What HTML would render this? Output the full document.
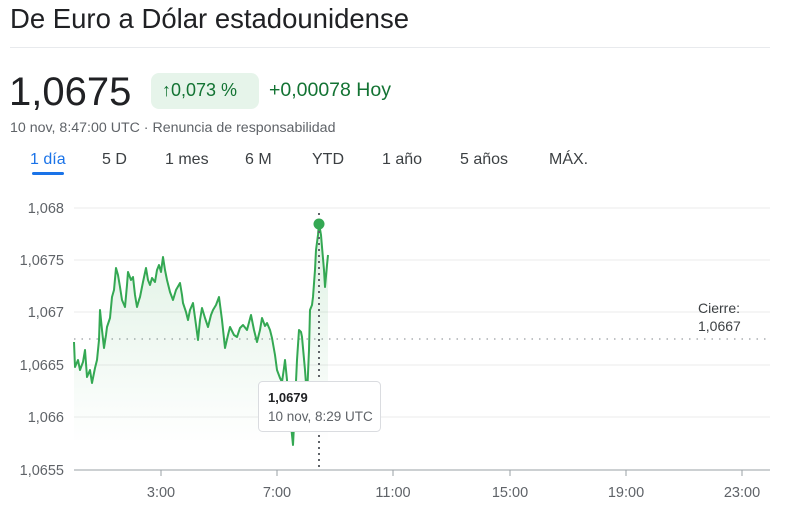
<!DOCTYPE html><html><head><style>
body{margin:0;width:800px;height:517px;background:#fff;font-family:"Liberation Sans",Arial,sans-serif;overflow:hidden;position:relative}
.a{position:absolute;white-space:nowrap}
</style></head><body>
<div class="a" style="left:10px;top:3px;font-size:27.5px;color:#202124">De Euro a Dólar estadounidense</div>
<div class="a" style="left:10px;top:47px;width:760px;border-top:1px solid #e8eaed"></div>
<div class="a" style="left:9px;top:70px;font-size:40px;color:#202124">1,0675</div>
<div class="a" style="left:151px;top:73px;width:108px;height:36px;background:#e6f4ea;border-radius:8px"></div>
<div class="a" style="left:162px;top:80px;font-size:18px;color:#137333">↑0,073 %</div>
<div class="a" style="left:269px;top:79px;font-size:19.5px;color:#137333">+0,00078 Hoy</div>
<div class="a" style="left:10px;top:120px;font-size:14.2px;color:#5f6368">10 nov, 8:47:00 UTC · Renuncia de responsabilidad</div>
<div class="a" style="left:30px;top:151px;font-size:16px;color:#1a73e8">1 día</div>
<div class="a" style="left:32px;top:172px;width:32px;height:3px;background:#1a73e8;border-radius:2px"></div>
<div class="a" style="left:102px;top:151px;font-size:16px;color:#3c4043">5 D</div>
<div class="a" style="left:165px;top:151px;font-size:16px;color:#3c4043">1 mes</div>
<div class="a" style="left:245px;top:151px;font-size:16px;color:#3c4043">6 M</div>
<div class="a" style="left:312px;top:151px;font-size:16px;color:#3c4043">YTD</div>
<div class="a" style="left:382px;top:151px;font-size:16px;color:#3c4043">1 año</div>
<div class="a" style="left:460px;top:151px;font-size:16px;color:#3c4043">5 años</div>
<div class="a" style="left:549px;top:151px;font-size:16px;color:#3c4043">MÁX.</div>
<svg class="a" style="left:0;top:0" width="800" height="517">
<defs><linearGradient id="g" x1="0" y1="0" x2="0" y2="1"><stop offset="0" stop-color="#34a853" stop-opacity="0.18"/><stop offset="1" stop-color="#34a853" stop-opacity="0"/></linearGradient></defs>
<g stroke="#ebebeb" stroke-width="1">
<line x1="74" x2="770" y1="208" y2="208"/><line x1="74" x2="770" y1="260" y2="260"/><line x1="74" x2="770" y1="312" y2="312"/><line x1="74" x2="770" y1="365" y2="365"/><line x1="74" x2="770" y1="417" y2="417"/></g>
<line x1="74" x2="770" y1="470" y2="470" stroke="#9aa0a6"/>
<g stroke="#9aa0a6"><line x1="161" x2="161" y1="470" y2="476"/><line x1="277" x2="277" y1="470" y2="476"/><line x1="393" x2="393" y1="470" y2="476"/><line x1="510" x2="510" y1="470" y2="476"/><line x1="626" x2="626" y1="470" y2="476"/><line x1="742" x2="742" y1="470" y2="476"/></g>
<g font-size="14.5" fill="#5f6368" text-anchor="end"><text x="64" y="213">1,068</text><text x="64" y="265">1,0675</text><text x="64" y="317">1,067</text><text x="64" y="370">1,0665</text><text x="64" y="422">1,066</text><text x="64" y="475">1,0655</text></g>
<g font-size="14.5" fill="#5f6368" text-anchor="middle"><text x="161" y="497">3:00</text><text x="277" y="497">7:00</text><text x="393" y="497">11:00</text><text x="510" y="497">15:00</text><text x="626" y="497">19:00</text><text x="742" y="497">23:00</text></g>
<line x1="74" x2="770" y1="339" y2="339" stroke="#80868b" stroke-dasharray="1.5,6"/>
<text x="698" y="313" font-size="14" fill="#3c4043">Cierre:</text>
<text x="698" y="331" font-size="14" fill="#3c4043">1,0667</text>
<path id="p" d="M74,342 L75,367 L78,360 L80,370 L83,362 L85,350 L87,377 L90,370 L92,383 L95,368 L97,360 L99,340 L100,310 L102,330 L104,348 L106,335 L107,327 L110,318 L112,297 L114,290 L116,268 L118,275 L120,287 L122,300 L125,307 L127,285 L128,272 L131,280 L133,277 L135,295 L137,307 L139,300 L140,297 L143,282 L146,268 L148,280 L150,285 L152,278 L155,282 L157,270 L159,265 L161,272 L163,257 L165,270 L167,280 L170,292 L173,300 L176,290 L180,283 L182,295 L183,303 L186,312 L188,320 L190,310 L193,303 L196,325 L198,340 L200,320 L202,308 L205,318 L208,327 L211,315 L213,310 L216,305 L219,297 L222,320 L225,348 L228,335 L230,327 L234,335 L237,337 L240,328 L243,325 L247,330 L251,315 L254,330 L257,342 L260,330 L262,318 L265,326 L267,323 L270,330 L272,338 L275,355 L277,370 L280,378 L282,382 L284,368 L285,360 L287,380 L288,403 L291,425 L293,445 L294,425 L295,403 L297,360 L299,330 L301,332 L302,337 L305,370 L307,397 L309,350 L310,310 L312,305 L313,297 L315,270 L316,250 L318,235 L319,223 L321,235 L322,247 L324,270 L325,287 L327,265 L328,255"
 fill="none" stroke="#34a853" stroke-width="2" stroke-linejoin="round"/>
<path d="M74,342 L75,367 L78,360 L80,370 L83,362 L85,350 L87,377 L90,370 L92,383 L95,368 L97,360 L99,340 L100,310 L102,330 L104,348 L106,335 L107,327 L110,318 L112,297 L114,290 L116,268 L118,275 L120,287 L122,300 L125,307 L127,285 L128,272 L131,280 L133,277 L135,295 L137,307 L139,300 L140,297 L143,282 L146,268 L148,280 L150,285 L152,278 L155,282 L157,270 L159,265 L161,272 L163,257 L165,270 L167,280 L170,292 L173,300 L176,290 L180,283 L182,295 L183,303 L186,312 L188,320 L190,310 L193,303 L196,325 L198,340 L200,320 L202,308 L205,318 L208,327 L211,315 L213,310 L216,305 L219,297 L222,320 L225,348 L228,335 L230,327 L234,335 L237,337 L240,328 L243,325 L247,330 L251,315 L254,330 L257,342 L260,330 L262,318 L265,326 L267,323 L270,330 L272,338 L275,355 L277,370 L280,378 L282,382 L284,368 L285,360 L287,380 L288,403 L291,425 L293,445 L294,425 L295,403 L297,360 L299,330 L301,332 L302,337 L305,370 L307,397 L309,350 L310,310 L312,305 L313,297 L315,270 L316,250 L318,235 L319,223 L321,235 L322,247 L324,270 L325,287 L327,265 L328,255 L328,440 L74,440 Z" fill="url(#g)" stroke="none" opacity="0.9"/>
<line x1="319" x2="319" y1="213" y2="470" stroke="#5f6368" stroke-width="2" stroke-dasharray="2,4"/>
<circle cx="319" cy="224" r="5.5" fill="#34a853"/>
<rect x="258.5" y="381.5" width="122" height="50" rx="4" fill="#fff" stroke="#dadce0"/>
<text x="268" y="402" font-size="13" fill="#202124" font-weight="bold">1,0679</text>
<text x="268" y="421" font-size="13.5" fill="#5f6368">10 nov, 8:29 UTC</text>
</svg>
</body></html>
